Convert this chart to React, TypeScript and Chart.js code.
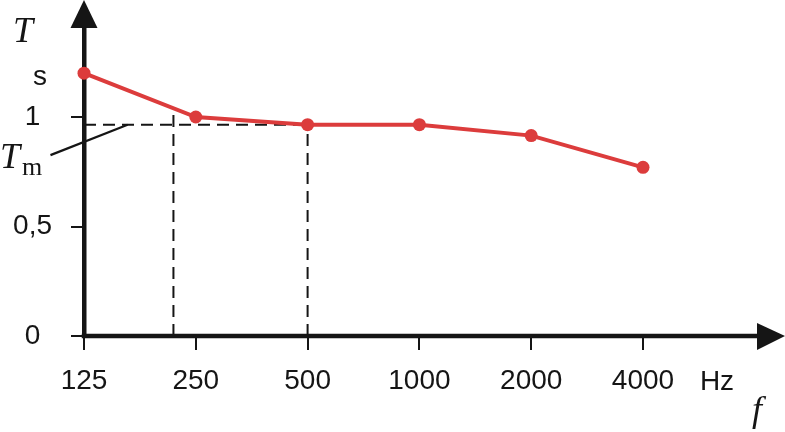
import React, { useEffect, useRef } from "react";
import { Chart, registerables } from "chart.js";

Chart.register(...registerables);

const categories = ["125", "250", "500", "1000", "2000", "4000"];
const reverbTimes = [1.2, 1.0, 0.965, 0.965, 0.915, 0.77];
const yTickValues = [0, 0.5, 1];
const meanTime = 0.965;
const guideX = 0.8;
const guideTop = 1.04;
const pointerFrom = { x: -0.3, y: 0.826 };
const pointerTo = { x: 0.39, y: 0.965 };

const RED = "#dc3c3c";
const INK = "#151515";

const annotations = {
  id: "annotations",
  afterDraw(chart: any) {
    const ctx = chart.ctx;
    const a = chart.chartArea;
    const yAxis = chart.scales.x.getPixelForValue ? chart.scales.y.getPixelForValue(0) : a.bottom;
    ctx.save();
    ctx.fillStyle = INK;
    ctx.strokeStyle = INK;
    ctx.lineWidth = 4.5;
    ctx.beginPath();
    ctx.moveTo(a.left - 2.25, yAxis);
    ctx.lineTo(760, yAxis);
    ctx.stroke();
    ctx.beginPath();
    ctx.moveTo(757, yAxis - 13);
    ctx.lineTo(785, yAxis);
    ctx.lineTo(757, yAxis + 14);
    ctx.closePath();
    ctx.fill();
    ctx.beginPath();
    ctx.moveTo(a.left - 13.5, a.top + 1);
    ctx.lineTo(a.left, 0);
    ctx.lineTo(a.left + 13.5, a.top + 1);
    ctx.closePath();
    ctx.fill();
    ctx.textBaseline = "alphabetic";
    ctx.textAlign = "left";
    ctx.font = "italic 36px 'Liberation Serif'";
    ctx.fillText("T", 13, 42);
    ctx.fillText("T", 0, 168);
    ctx.fillText("f", 752, 421);
    ctx.font = "26px 'Liberation Serif'";
    ctx.fillText("m", 22, 175);
    ctx.font = "28px 'Liberation Sans'";
    ctx.textAlign = "center";
    ctx.fillText("s", 40, 85);
    ctx.fillText("Hz", 717, 390);
    ctx.restore();
  },
};

export default function App() {
  const ref = useRef<HTMLCanvasElement | null>(null);
  useEffect(() => {
    if (!ref.current) return;
    const dashed = {
      borderColor: INK,
      borderWidth: 2,
      borderDash: [12, 7],
      pointRadius: 0,
      fill: false,
    };
    const chart = new Chart(ref.current, {
      type: "line",
      data: {
        datasets: [
          {
            data: reverbTimes.map((v, i) => ({ x: i, y: v })),
            borderColor: RED,
            backgroundColor: RED,
            borderWidth: 4,
            pointRadius: 6.5,
            pointBackgroundColor: RED,
            pointBorderColor: RED,
            pointBorderWidth: 0,
            clip: false as any,
          },
          {
            ...dashed,
            data: [
              { x: 0, y: meanTime },
              { x: 2, y: meanTime },
            ],
          },
          {
            ...dashed,
            data: [
              { x: 2, y: 0 },
              { x: 2, y: meanTime },
            ],
          },
          {
            ...dashed,
            data: [
              { x: guideX, y: 0 },
              { x: guideX, y: guideTop },
            ],
          },
          {
            data: [pointerFrom, pointerTo],
            borderColor: INK,
            borderWidth: 2.2,
            pointRadius: 0,
            clip: false as any,
          },
        ],
      },
      options: {
        responsive: false,
        animation: false,
        layout: { padding: { top: 27, right: 142, left: 0, bottom: 0 } },
        plugins: {
          legend: { display: false },
          tooltip: { enabled: false },
        },
        scales: {
          x: {
            type: "linear",
            min: 0,
            max: categories.length - 1,
            afterFit: (s: any) => {
              s.height = 96;
              s.paddingLeft = 0;
              s.paddingRight = 0;
            },
            afterBuildTicks: (s: any) => {
              s.ticks = categories.map((_, i) => ({ value: i }));
            },
            ticks: {
              callback: (v: any) => categories[Math.round(Number(v))],
              font: { family: "'Liberation Sans'", size: 28 },
              color: INK,
              padding: 14,
              maxRotation: 0,
              autoSkip: false,
            },
            grid: {
              drawOnChartArea: false,
              drawTicks: true,
              tickLength: 14,
              color: INK,
              lineWidth: 2,
            },
            border: { display: false },
          },
          y: {
            type: "linear",
            min: 0,
            max: (336 - 27) / 219,
            afterFit: (s: any) => {
              s.width = 84;
              s.paddingTop = 0;
              s.paddingBottom = 0;
            },
            afterBuildTicks: (s: any) => {
              s.ticks = yTickValues.map((v) => ({ value: v }));
            },
            ticks: {
              callback: (v: any) => String(v).replace(".", ","),
              font: { family: "'Liberation Sans'", size: 28 },
              color: INK,
              padding: 19,
              crossAlign: "center",
            },
            grid: {
              drawOnChartArea: false,
              drawTicks: true,
              tickLength: 13,
              color: INK,
              lineWidth: 2,
            },
            border: { display: true, color: INK, width: 4.5 },
          },
        },
      },
      plugins: [annotations],
    } as any);
    return () => chart.destroy();
  }, []);
  return (
    <div style={{ position: "fixed", left: 0, top: 0, width: 785, height: 432, background: "#fff" }}>
      <canvas ref={ref} width={785} height={432} style={{ display: "block", width: 785, height: 432 }} />
    </div>
  );
}
